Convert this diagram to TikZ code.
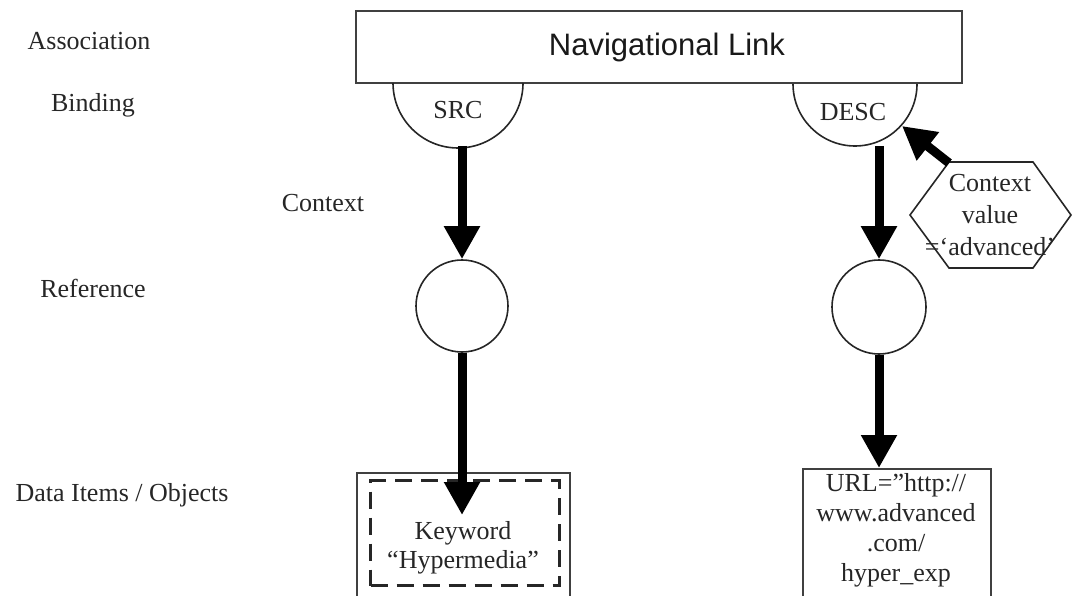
\documentclass[tikz,border=0pt]{standalone}
\usepackage{fontspec}
\setmainfont{Liberation Serif}
\newfontfamily\linkfont{Liberation Sans}
\usetikzlibrary{arrows.meta,positioning,shapes.geometric}
\tikzset{
  lbl/.style={font=\fontsize{26}{31}\selectfont,text=black!85},
  fat/.style={line width=9pt,-{Triangle[width=34pt,length=33pt]}},
  thinline/.style={line width=1.6pt,draw=black!85},
  databox/.style={draw=black!75,line width=2pt,minimum width=188pt,minimum height=150pt,anchor=north west,inner sep=0pt},
}
\begin{document}
\begin{tikzpicture}[x=1pt,y=-1pt]
\useasboundingbox (0,0) rectangle (1073,596);
\clip (0,0) rectangle (1073,596);
% level names
\node[lbl] (assoc) at (89,41) {Association};
\node[lbl] (binding) at (93,105) {Binding};
\node[lbl] (context) at (323,203) {Context};
\node[lbl] (reference) at (93,288) {Reference};
\node[lbl] (dataitems) at (122,495) {Data Items / Objects};
% association
\node[draw=black!75,line width=2pt,minimum width=606pt,minimum height=72pt,inner sep=0pt] (navbox) at (659,47) {};
\node[font=\linkfont\fontsize{31}{36}\selectfont,text=black!90] (navlink) at (667,47) {Navigational Link};
% bindings
\draw[thinline] (393,83) arc[start angle=180,end angle=0,radius=65];
\draw[thinline] (793,84) arc[start angle=180,end angle=0,radius=62];
\node[lbl] (src) at (458,110) {SRC};
\node[lbl] (desc) at (853,112) {DESC};
\coordinate (srcbot) at (462,146);
\coordinate (descbot) at (879,146);
% references
\node[circle,thinline,minimum size=92pt,inner sep=0pt] (srcref) at (462,306) {};
\node[circle,thinline,minimum size=94pt,inner sep=0pt] (descref) at (879,307) {};
% context value
\draw[thinline] (910,215) -- (949,162) -- (1033,162) -- (1071,215) -- (1033,268) -- (949,268) -- cycle;
\node[lbl,align=center,font=\fontsize{26}{32}\selectfont] (ctxval) at (990,215) {Context\\value\\=‘advanced’};
\coordinate (hexcorner) at (949,163);
\coordinate (desctip) at (902,126);
% data items
\node[databox,minimum width=213pt] (srcdata) at (356,472) {};
\node[draw=black!85,line width=3pt,dash pattern=on 17pt off 9pt,minimum width=189pt,minimum height=105pt,inner sep=0pt] (kwbox) at (465,533) {};
\node[lbl,align=center,font=\fontsize{26}{29}\selectfont] (keyword) at (463,548) {Keyword\\“Hypermedia”};
\coordinate (kwtip) at (srcref.south |- 0,515);
\node[databox] (descdata) at (802,468) {};
\node[lbl,align=center,font=\fontsize{26}{30}\selectfont,anchor=north] (url) at (896,470) {URL=”http://\\www.advanced\\.com/\\hyper\_exp};
% connectors
\draw[fat] (srcbot) -- (srcref.north);
\draw[fat] (descbot) -- (descref.north);
\draw[fat] (hexcorner) -- (desctip);
\draw[fat] (srcref.south) -- (kwtip);
\draw[fat] (descref.south) -- (descref.south |- descdata.north);
\end{tikzpicture}
\end{document}
